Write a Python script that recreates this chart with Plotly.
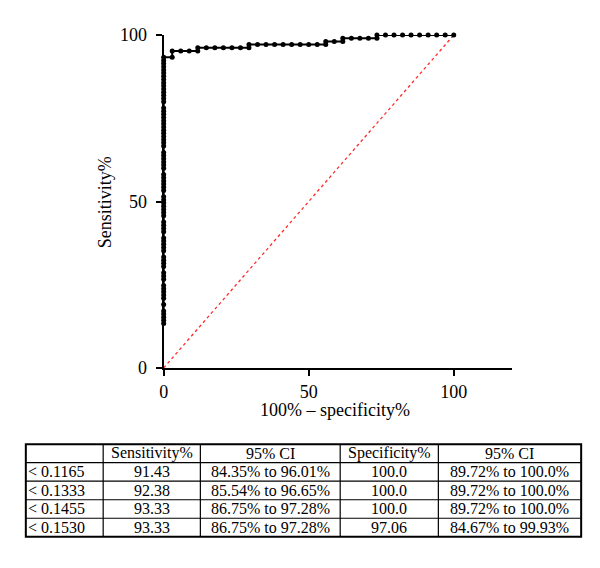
import plotly.graph_objects as go

# ROC curve points (100% - specificity%, sensitivity%)
fpr = [0]*74 + [
    2.94, 2.94, 5.88, 8.82, 11.76,
    11.76, 14.71, 17.65, 20.59, 23.53, 26.47, 29.41,
    29.41, 32.35, 35.29, 38.24, 41.18, 44.12, 47.06, 50.00, 52.94, 55.88,
    55.88, 58.82, 61.76,
    61.76, 64.71, 67.65, 70.59, 73.53,
    73.53, 76.47, 79.41, 82.35, 85.29, 88.24, 91.18, 94.12, 97.06, 100.0]
sens = [13.33, 14.29, 15.24, 16.19, 17.14, 19.05, 20.95, 21.90, 22.86, 23.81,
        24.76, 26.67, 27.62, 28.57, 30.48, 31.43, 32.38, 33.33, 35.24, 36.19,
        37.14, 38.10, 39.05, 40.95, 41.90, 42.86, 43.81, 45.71, 46.67, 47.62,
        48.57, 49.52, 50.48, 51.43, 53.33, 54.29, 55.24, 56.19, 57.14, 58.10,
        60.00, 60.95, 61.90, 62.86, 63.81, 64.76, 66.67, 67.62, 68.57, 69.52,
        70.48, 71.43, 72.38, 73.33, 74.29, 75.24, 76.19, 77.14, 78.10, 80.00,
        80.95, 81.90, 82.86, 83.81, 84.76, 85.71, 86.67, 87.62, 88.57, 89.52,
        90.48, 91.43, 92.38, 93.33] + [
    93.33, 95.24, 95.24, 95.24, 95.24,
    96.19, 96.19, 96.19, 96.19, 96.19, 96.19, 96.19,
    97.14, 97.14, 97.14, 97.14, 97.14, 97.14, 97.14, 97.14, 97.14, 97.14,
    98.10, 98.10, 98.10,
    99.05, 99.05, 99.05, 99.05, 99.05,
    100.0, 100.0, 100.0, 100.0, 100.0, 100.0, 100.0, 100.0, 100.0, 100.0]
ref_x = [0, 100]
ref_y = [0, 100]

x_ticks = [0, 50, 100]
y_ticks = [0, 50, 100]

# Table data
tbl_header = ["", "Sensitivity%", "95% CI", "Specificity%", "95% CI"]
thresholds = ["< 0.1165", "< 0.1333", "< 0.1455", "< 0.1530"]
sens_vals = ["91.43", "92.38", "93.33", "93.33"]
sens_ci = ["84.35% to 96.01%", "85.54% to 96.65%", "86.75% to 97.28%", "86.75% to 97.28%"]
spec_vals = ["100.0", "100.0", "100.0", "97.06"]
spec_ci = ["89.72% to 100.0%", "89.72% to 100.0%", "89.72% to 100.0%", "84.67% to 99.93%"]

W, H = 600, 568
FONT = "Liberation Serif"

def px(x):
    return x / W

def py(y):
    return 1 - y / H

fig = go.Figure()
fig.add_trace(go.Scatter(x=ref_x, y=ref_y, mode="lines",
                         line=dict(color="#ff2a2a", width=1.3, dash="dot"),
                         cliponaxis=False, hoverinfo="skip", showlegend=False))
fig.add_trace(go.Scatter(x=fpr, y=sens, mode="lines+markers",
                         line=dict(color="black", width=2),
                         marker=dict(color="black", size=5),
                         cliponaxis=False, showlegend=False))

# Table drawn with shapes + annotations (pixel layout -> paper coords)
col_edges = [21, 99, 197, 338, 437, 581]
tbl_top, tbl_bot = 450, 546
n_rows = len(thresholds) + 1
row_h = (tbl_bot - tbl_top) / n_rows
row_edges = [tbl_top + i * row_h for i in range(n_rows + 1)]

shapes = []
for xe in col_edges[1:-1]:
    shapes.append(dict(type="line", xref="paper", yref="paper",
                       x0=px(xe), x1=px(xe), y0=py(tbl_bot), y1=py(tbl_top),
                       line=dict(color="black", width=1.2)))
for ye in row_edges[1:-1]:
    shapes.append(dict(type="line", xref="paper", yref="paper",
                       x0=px(col_edges[0]), x1=px(col_edges[-1]), y0=py(ye), y1=py(ye),
                       line=dict(color="black", width=1.2)))
shapes.append(dict(type="rect", xref="paper", yref="paper",
                   x0=px(col_edges[0]), x1=px(col_edges[-1]), y0=py(tbl_bot), y1=py(tbl_top),
                   line=dict(color="black", width=2), fillcolor="rgba(0,0,0,0)"))

annotations = [
    dict(text="Sensitivity%", x=px(101), y=py(199), xref="paper", yref="paper",
         textangle=-90, showarrow=False, font=dict(family=FONT, size=18),
         xanchor="center", yanchor="middle"),
    dict(text="100% – specificity%", x=px(333), y=py(415), xref="paper", yref="paper",
         showarrow=False, font=dict(family=FONT, size=18),
         xanchor="center", yanchor="middle"),
]

columns = [thresholds, sens_vals, sens_ci, spec_vals, spec_ci]
table_font = dict(family=FONT, size=16, color="black")
for ci, head in enumerate(tbl_header):
    rows = [head] + columns[ci]
    for ri, txt in enumerate(rows):
        if not txt:
            continue
        yc = (row_edges[ri] + row_edges[ri + 1]) / 2
        if ci == 0:
            xx, xa = col_edges[0], "left"
        else:
            xx, xa = (col_edges[ci] + col_edges[ci + 1]) / 2, "center"
        annotations.append(dict(text=txt, x=px(xx), y=py(yc), xref="paper", yref="paper",
                                showarrow=False, font=table_font,
                                xanchor=xa, yanchor="middle"))

fig.update_layout(
    width=W, height=H,
    margin=dict(l=0, r=0, t=0, b=0),
    paper_bgcolor="white", plot_bgcolor="white",
    font=dict(family=FONT, size=18, color="black"),
    xaxis=dict(domain=[px(160), px(511)], range=[0, 120], tickvals=x_ticks,
               showline=True, linecolor="black", linewidth=2,
               ticks="outside", ticklen=6, tickwidth=2, tickcolor="black",
               showgrid=False, zeroline=False,
               tickfont=dict(family=FONT, size=18), anchor="y"),
    yaxis=dict(domain=[py(371), py(26)], range=[0, 100], tickvals=y_ticks,
               showline=True, linecolor="black", linewidth=2,
               ticks="outside", ticklen=6, tickwidth=2, tickcolor="black",
               showgrid=False, zeroline=False, ticklabelstandoff=5,
               tickfont=dict(family=FONT, size=18), anchor="x"),
    annotations=annotations,
    shapes=shapes,
)

fig.write_html("out.html")
